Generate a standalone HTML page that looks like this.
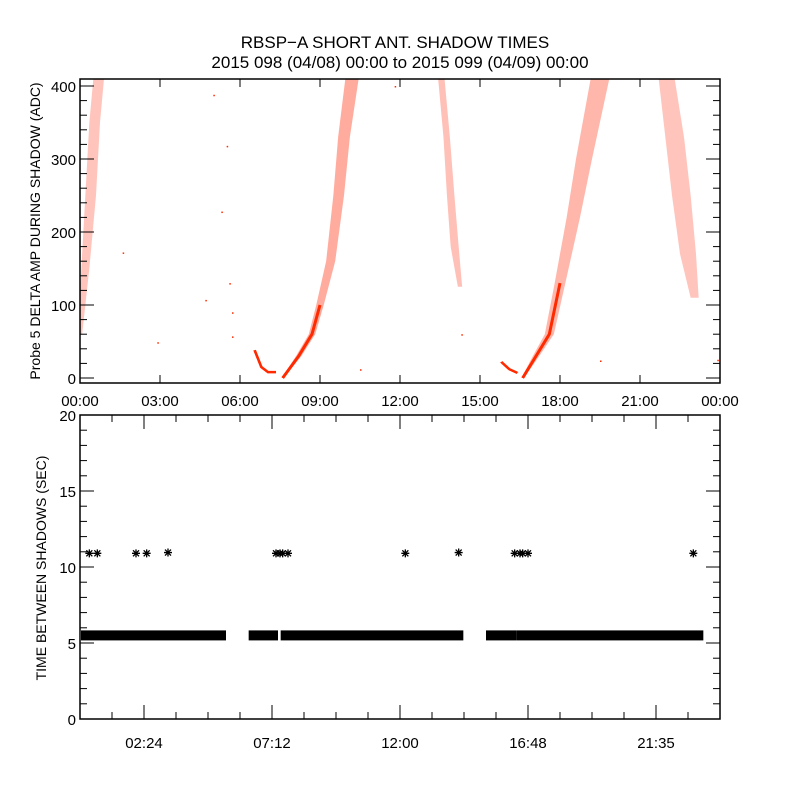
<!DOCTYPE html>
<html><head><meta charset="utf-8"><style>
body{margin:0;background:#fff}
svg text{font-family:"Liberation Sans",sans-serif;fill:#000}
</style></head><body>
<svg id="c" width="800" height="800" viewBox="0 0 800 800">
<rect width="800" height="800" fill="#fff"/>
<text x="395" y="48" font-size="17" text-anchor="middle">RBSP−A SHORT ANT. SHADOW TIMES</text>
<text x="400" y="68" font-size="17" text-anchor="middle">2015 098 (04/08) 00:00 to 2015 099 (04/09) 00:00</text>
<g id="top"></g>
<g id="bot"></g>
</svg>
<script>
// ---- top panel data: passes (hour, ADC value, half-width hours)
const pass1 = [[0.0,60,0.08],[0.2,150,0.15],[0.4,250,0.2],[0.55,350,0.2],[0.7,410,0.2]];
const bump1 = [[6.55,38,0.05],[6.8,15,0.05],[7.05,8,0.06],[7.35,8,0.05]];
const pass2 = [[7.6,0,0.04],[8.2,30,0.1],[8.7,60,0.12],[9.0,100,0.14],[9.4,160,0.17],[9.7,250,0.2],[9.9,330,0.22],[10.2,410,0.25]];
const pass3 = [[13.55,410,0.12],[13.75,330,0.12],[13.9,250,0.14],[14.05,180,0.15],[14.25,125,0.08]];
const bump2 = [[15.8,22,0.05],[16.1,12,0.07],[16.4,7,0.05]];
const pass4 = [[16.6,0,0.05],[17.1,30,0.12],[17.6,60,0.17],[18.0,130,0.2],[18.5,220,0.25],[18.9,300,0.3],[19.5,410,0.35]];
const pass5 = [[22.0,410,0.3],[22.3,330,0.35],[22.55,250,0.35],[22.8,170,0.3],[23.05,110,0.15]];
const strays = [[1.6,172],[5.0,388],[5.5,318],[5.3,228],[4.7,107],[2.9,49],[5.6,130],[5.7,90],[5.7,57],[10.5,12],[14.3,60],[19.5,24],[11.8,400],[23.9,25]];
const topYTicks = [0,100,200,300,400];
const topXLabels = ["00:00","03:00","06:00","09:00","12:00","15:00","18:00","21:00","00:00"];
// ---- bottom panel data
const bandSegments = [[0.05,5.4],[6.4,7.35],[7.6,14.3],[15.3,16.3],[16.45,23.3]];
const bandValue = 5.5;
const starHours = [0.35,0.65,2.1,2.5,3.3,7.35,7.5,7.6,7.8,12.2,14.2,16.3,16.5,16.6,16.8,23.0];
const starValues = [10.9,10.9,10.9,10.9,10.95,10.9,10.9,10.9,10.9,10.9,10.95,10.9,10.9,10.9,10.9,10.9];
const botYTicks = [0,5,10,15,20];
const botXTickHours = [2.4,7.2,12.0,16.8,21.6];
const botXLabels = ["02:24","07:12","12:00","16:48","21:35"];

const NS="http://www.w3.org/2000/svg";
function mk(parent,tag,attrs,name){const e=document.createElementNS(NS,tag);for(const k in attrs)e.setAttribute(k,attrs[k]);


parent.appendChild(e);return e;}
const L=80,R=720;
const xs=h=>L+h*(R-L)/24;
// top
const T=document.getElementById('top');
const tyTop=79,tyBot=383;
const ty=v=>378-v*0.73;
const cp=mk(T,'clipPath',{id:'tc'},'top-clip');mk(cp,'rect',{x:L,y:tyTop,width:R-L,height:tyBot-tyTop},'clip-rect');
const dg=mk(T,'g',{'clip-path':'url(#tc)'},'top-data');
function band(arr,name,op,core){
  const up=arr.map(p=>[xs(p[0]-p[2]),ty(p[1])]), dn=arr.map(p=>[xs(p[0]+p[2]),ty(p[1])]).reverse();
  mk(dg,'polygon',{points:up.concat(dn).map(p=>p.join(',')).join(' '),fill:'#ff3010','fill-opacity':op},name);
  const low=arr.filter(p=>p[1]<=130);
  if(core&&low.length>1) mk(dg,'polyline',{points:low.map(p=>xs(p[0])+','+ty(p[1])).join(' '),fill:'none',stroke:'#ff2a00','stroke-width':core},name+'-core');
}
band(pass1,'pass-1',0.28,0);band(bump1,'bump-1',0.9,2.5);band(pass2,'pass-2',0.4,3);band(pass3,'pass-3',0.3,0);
band(bump2,'bump-2',0.9,2.5);band(pass4,'pass-4',0.35,3);band(pass5,'pass-5',0.28,0);
strays.forEach(p=>mk(dg,'rect',{x:xs(p[0]),y:ty(p[1]),width:1.5,height:1.5,fill:'#ff2a00'},'stray-point'));
mk(T,'rect',{x:L,y:tyTop,width:R-L,height:tyBot-tyTop,fill:'none',stroke:'#000','stroke-width':1.5},'top-frame');
for(let v=-0;v<=400;v+=20){const big=v%100===0;const y=ty(v);
 mk(T,'line',{x1:L,x2:L+(big?14:7),y1:y,y2:y,stroke:'#000'},'top-y-tick');
 mk(T,'line',{x1:R,x2:R-(big?14:7),y1:y,y2:y,stroke:'#000'},'top-y-tick-right');}
topYTicks.forEach(v=>{const t=mk(T,'text',{x:L-4,y:ty(v)+6,'font-size':15,'text-anchor':'end'},'top-y-label');t.textContent=v;});
topXLabels.forEach((s,i)=>{const x=xs(i*3);
 mk(T,'line',{x1:x,x2:x,y1:tyBot,y2:tyBot-8,stroke:'#000'},'top-x-tick');
 mk(T,'line',{x1:x,x2:x,y1:tyTop,y2:tyTop+8,stroke:'#000'},'top-x-tick-top');
 const t=mk(T,'text',{x:x,y:406,'font-size':15,'text-anchor':'middle'},'top-x-label');t.textContent=s;});
const yt=mk(T,'text',{x:0,y:0,'font-size':14,'text-anchor':'middle',transform:'translate(40,231) rotate(-90)'},'top-y-axis-title');yt.textContent='Probe 5 DELTA AMP DURING SHADOW (ADC)';
// bottom
const B=document.getElementById('bot');
const bTop=415,bBot=719;
const by=v=>bBot-v*(bBot-bTop)/20;
bandSegments.forEach(s=>mk(B,'rect',{x:Math.max(L+1,xs(s[0])-2),y:by(bandValue)-5,width:xs(s[1])-Math.max(L+1,xs(s[0])-2)+2,height:10,fill:'#000'},'interval-band'));
starHours.forEach((h,i)=>{const cx=xs(h),cy=by(starValues[i]);
 const d=`M${cx-4},${cy}H${cx+4}M${cx},${cy-4}V${cy+4}M${cx-3},${cy-3}L${cx+3},${cy+3}M${cx-3},${cy+3}L${cx+3},${cy-3}`;
 mk(B,'path',{d:d,stroke:'#000','stroke-width':1.3,fill:'none'},'interval-star');});
mk(B,'rect',{x:L,y:bTop,width:R-L,height:bBot-bTop,fill:'none',stroke:'#000','stroke-width':1.5},'bottom-frame');
for(let v=0;v<=20;v++){const big=v%5===0;const y=by(v);
 mk(B,'line',{x1:L,x2:L+(big?14:7),y1:y,y2:y,stroke:'#000'},'bottom-y-tick');
 mk(B,'line',{x1:R,x2:R-(big?14:7),y1:y,y2:y,stroke:'#000'},'bottom-y-tick-right');}
botYTicks.forEach(v=>{const t=mk(B,'text',{x:L-4,y:by(v)+6,'font-size':15,'text-anchor':'end'},'bottom-y-label');t.textContent=v;});
for(let h=1.2;h<24;h+=1.2){const x=xs(h);const big=Math.abs(((h-2.4)/4.8)-Math.round((h-2.4)/4.8))<0.01;
 mk(B,'line',{x1:x,x2:x,y1:bBot,y2:bBot-(big?14:7),stroke:'#000'},'bottom-x-tick');
 mk(B,'line',{x1:x,x2:x,y1:bTop,y2:bTop+(big?14:7),stroke:'#000'},'bottom-x-tick-top');}
botXTickHours.forEach((h,i)=>{const t=mk(B,'text',{x:xs(h),y:748,'font-size':15,'text-anchor':'middle'},'bottom-x-label');t.textContent=botXLabels[i];});
const bt=mk(B,'text',{x:0,y:0,'font-size':14,'text-anchor':'middle',transform:'translate(46,568) rotate(-90)'},'bottom-y-axis-title');bt.textContent='TIME BETWEEN SHADOWS (SEC)';
</script>
</body></html>
